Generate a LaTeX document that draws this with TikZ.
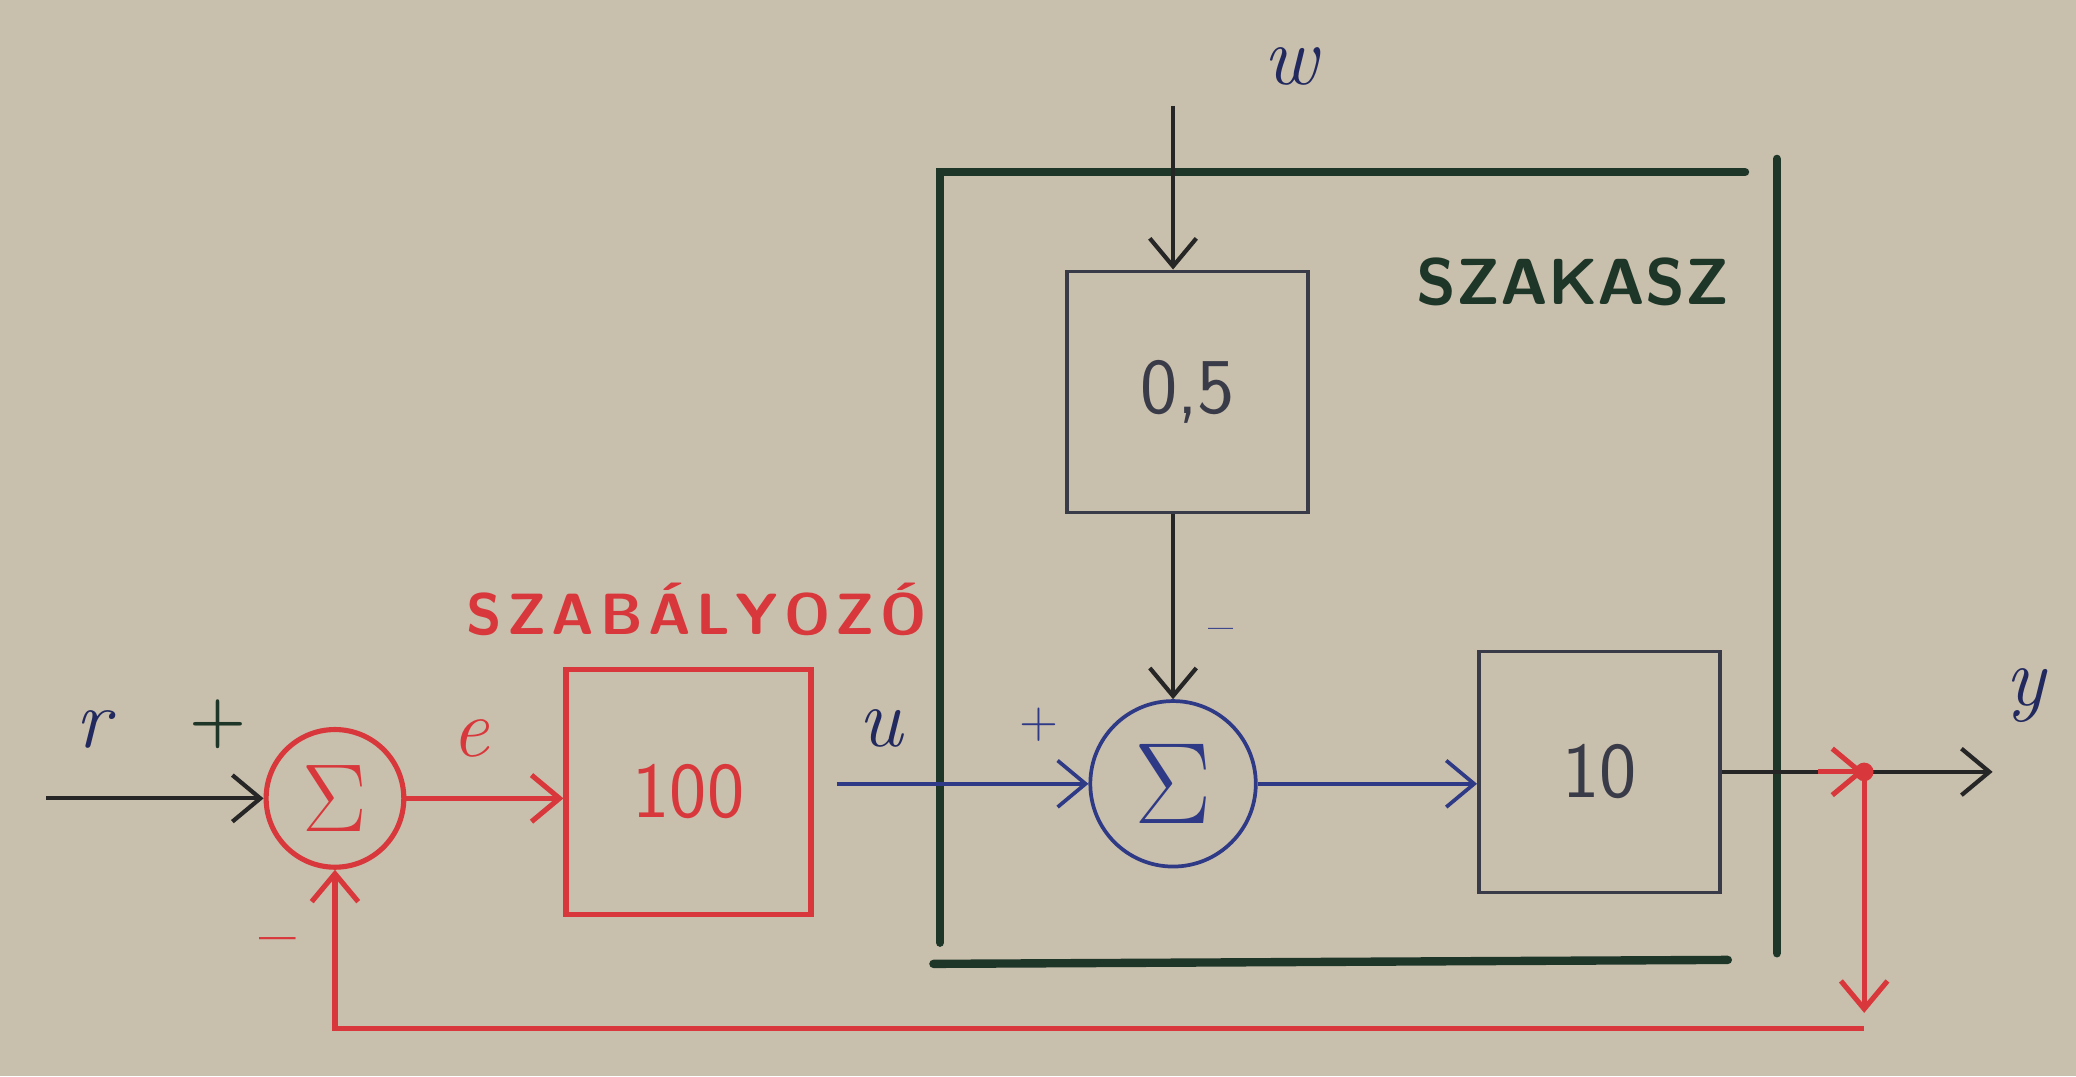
\documentclass[tikz,border=0pt]{standalone}
\usepackage{tikz}
\usetikzlibrary{arrows.meta,positioning}
\definecolor{PaperBg}{HTML}{C9BFAD}
\definecolor{CtrlRed}{HTML}{D8383B}
\definecolor{PlantBlue}{HTML}{2F3A86}
\definecolor{FrameGrn}{HTML}{1E3628}
\definecolor{BoxGray}{HTML}{3A3B48}
\tikzset{
  ctrl/.style={rectangle,draw=CtrlRed,line width=1.1pt,text=CtrlRed,
              minimum width=1.85cm,minimum height=1.85cm,font=\fontsize{17}{20}\selectfont\sffamily},
  plant/.style={rectangle,draw=BoxGray,line width=0.8pt,text=BoxGray,
              minimum width=1.82cm,minimum height=1.82cm,font=\fontsize{17}{20}\selectfont\sffamily},
  sumr/.style={circle,draw=CtrlRed,line width=1.1pt,text=CtrlRed,inner sep=0pt,
              minimum size=1.04cm,font=\fontsize{20}{22}\selectfont},
  sumb/.style={circle,draw=PlantBlue,line width=0.8pt,text=PlantBlue,inner sep=0pt,
              minimum size=1.25cm,font=\fontsize{24}{26}\selectfont},
  redarr/.style={-{Straight Barb[length=6pt,width=10pt]},line width=1.1pt,color=CtrlRed},
  bluearr/.style={-{Straight Barb[length=6pt,width=10pt]},line width=0.8pt,color=PlantBlue},
  darkarr/.style={-{Straight Barb[length=6pt,width=10pt]},line width=0.9pt,color=black!85},
  frame/.style={line width=1.8pt,color=FrameGrn,line cap=round},
  sig/.style={font=\fontsize{18}{20}\selectfont\itshape},
  sgn/.style={font=\fontsize{14}{16}\selectfont\bfseries},
}

\begin{document}
\begin{tikzpicture}
  \fill[PaperBg] (0,0) rectangle (15.68,8.13);
  \useasboundingbox (0,0) rectangle (15.68,8.13);

  % plant frame
  \draw[frame] (7.10,1.01) |- (13.18,6.83);
  \draw[frame] (13.42,6.93) -- (13.42,0.93);
  \draw[frame] (7.05,0.85) -- (13.05,0.88);
  \node[text=FrameGrn,font=\fontsize{14}{16}\selectfont\sffamily\bfseries] (plantlbl) at (11.88,6.0) {SZAKASZ};

  % blocks
  \node[sumr] (sum1) at (2.53,2.10) {$\Sigma$};
  \node[ctrl] (kc)   at (5.20,2.15) {100};
  \node[sumb] (sum2) at (8.86,2.21) {$\Sigma$};
  \node[plant] (kd)  at (8.97,5.17) {0,5};
  \node[plant] (kp)  at (12.08,2.30) {10};
  \node[text=CtrlRed,font=\fontsize{12.5}{15}\selectfont\sffamily\bfseries] (ctrllbl)
       at (5.26,3.53) {S\kern1.2pt Z\kern1.2pt A\kern1.2pt B\kern1.2pt Á\kern1.2pt L\kern1.2pt Y\kern1.2pt O\kern1.2pt Z\kern1.2pt Ó};

  \coordinate (rin)  at (0.35,2.10);
  \coordinate (uin)  at (6.32,2.21);
  \coordinate (win)  at (8.86,7.33);
  \coordinate (yout) at (15.05,2.30);
  \coordinate (pick) at (14.08,2.30);
  \coordinate (fbd)  at (14.08,0.48);

  % signals
  \draw[darkarr] (rin) -- (sum1.west);
  \draw[redarr] (sum1.east) -- (sum1.east -| kc.west);
  \draw[bluearr] (uin) -- (sum2.west);
  \draw[darkarr] (win) -- (win |- kd.north);
  \draw[darkarr] (sum2 |- kd.south) -- (sum2.north);
  \draw[bluearr] (sum2.east) -- (sum2.east -| kp.west);
  \draw[darkarr] (kp.east) -- (yout);

  % feedback
  \draw[redarr] ([xshift=-0.35cm]pick) -- (pick);
  \fill[CtrlRed] (pick) circle (2pt);
  \draw[redarr] (pick) -- (fbd);
  \draw[redarr] ([yshift=-0.12cm]fbd) -| (sum1.south);

  % labels
  \node[sig,text=PlantBlue!70!black] (lr) at (0.70,2.62) {r};
  \node[sgn,text=FrameGrn] (lp1) at (1.65,2.66) {+};
  \node[sgn,text=CtrlRed] (lm1) at (2.10,0.98) {--};
  \node[sig,text=CtrlRed] (le) at (3.55,2.55) {e};
  \node[sig,text=PlantBlue!70!black] (lu) at (6.65,2.63) {u};
  \node[sgn,text=PlantBlue,font=\fontsize{11}{13}\selectfont] (lp2) at (7.85,2.66) {+};
  \node[sgn,text=PlantBlue,font=\fontsize{11}{13}\selectfont] (lm2) at (9.22,3.33) {--};
  \node[sig,text=PlantBlue!70!black] (lw) at (9.75,7.63) {w};
  \node[sig,text=PlantBlue!70!black] (ly) at (15.30,2.88) {y};
\end{tikzpicture}
\end{document}
